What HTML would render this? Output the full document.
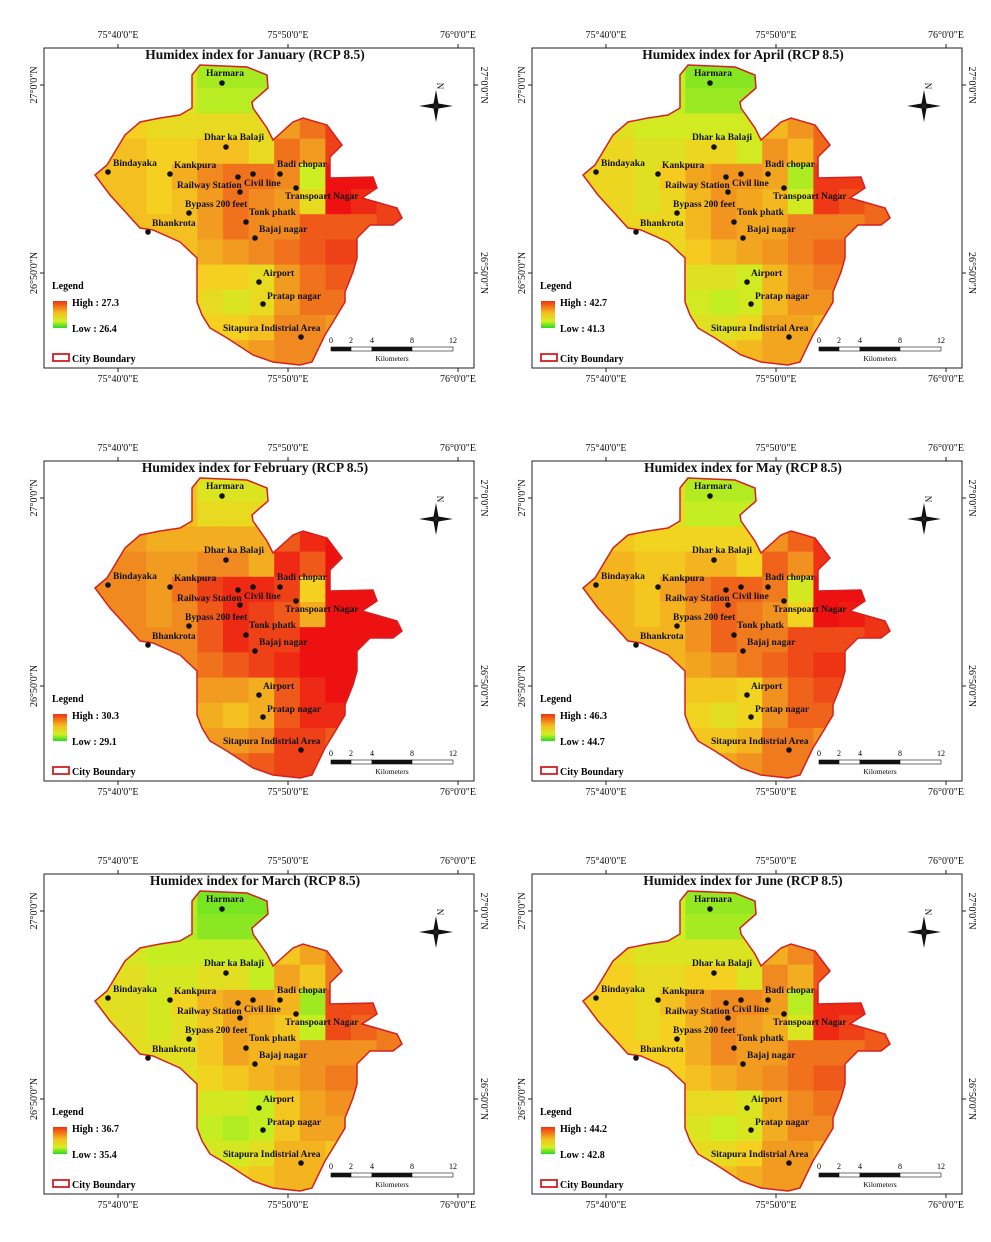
<!DOCTYPE html>
<html><head><meta charset="utf-8"><style>
html,body{margin:0;padding:0;background:#fff;}
svg{display:block;font-family:"Liberation Serif",serif;}
.lbl{font-size:9.5px;font-weight:bold;fill:#111;}
.coord{font-size:10px;fill:#111;}
.ttl{font-size:13.5px;font-weight:bold;fill:#111;}
</style></head><body>
<svg id="fig" width="991" height="1242" viewBox="0 0 991 1242" xmlns="http://www.w3.org/2000/svg">
<defs>
<clipPath id="cityClip" clipPathUnits="userSpaceOnUse">
<polygon id="cityPoly" points="192,75 200,65 247,67 267,75 268,88 252,102 253,108 267,128 273,140 293,122 303,118 327,125 342,145 330,157 330,178 373,177 377,188 362,198 397,208 402,218 393,225 370,225 357,238 357,258 353,272 345,292 345,302 333,322 325,335 312,362 300,365 273,362 253,355 227,338 210,328 202,315 197,302 197,258 180,242 153,230 140,228 110,195 95,175 107,165 125,135 140,122 160,118 180,115 192,108"/>
</clipPath>
<linearGradient id="legGrad" x1="0" y1="0" x2="0" y2="1">
<stop offset="0" stop-color="#ee3311"/><stop offset="0.45" stop-color="#f5c020"/><stop offset="0.75" stop-color="#d4ee22"/><stop offset="1" stop-color="#22dd22"/>
</linearGradient>
</defs>
</svg>
<script>
const months = ["January","April","February","May","March","June"];
const highVals = ["27.3","42.7","30.3","46.3","36.7","44.2"];
const lowVals = ["26.4","41.3","29.1","44.7","35.4","42.8"];
const heatOffset = [0, -0.08, 0.15, 0.03, -0.12, -0.05];
const baseHeat = [
 [0.5,0.5,0.5,0.45,0.3,0.3,0.3,0.6,0.7,0.8,0.8,0.8],
 [0.5,0.5,0.5,0.45,0.35,0.35,0.35,0.6,0.7,0.8,0.8,0.8],
 [0.55,0.55,0.5,0.5,0.5,0.5,0.5,0.7,0.8,0.9,0.9,0.9],
 [0.6,0.6,0.55,0.55,0.6,0.6,0.5,0.8,0.7,0.9,0.95,0.95],
 [0.6,0.6,0.55,0.65,0.75,0.8,0.8,0.75,0.4,1,1,1],
 [0.6,0.6,0.55,0.6,0.7,0.8,0.75,0.7,0.5,1,0.95,0.9],
 [0.6,0.6,0.6,0.6,0.7,0.8,0.75,0.75,0.85,0.85,0.85,0.9],
 [0.6,0.6,0.6,0.6,0.65,0.7,0.75,0.8,0.85,0.9,0.9,0.9],
 [0.55,0.55,0.55,0.55,0.55,0.55,0.5,0.7,0.8,0.85,0.85,0.85],
 [0.5,0.5,0.5,0.5,0.5,0.45,0.5,0.7,0.8,0.8,0.8,0.8],
 [0.55,0.55,0.55,0.55,0.55,0.55,0.6,0.75,0.75,0.7,0.7,0.7],
 [0.65,0.65,0.65,0.65,0.65,0.65,0.7,0.75,0.75,0.75,0.75,0.75]
];
const places = [
 ["Harmara",222,83,206,76],["Dhar ka Balaji",226,147,204,140],["Bindayaka",108,172,113,166],
 ["Kankpura",170,174,174,168],["Railway Station",238,177,177,188],["Civil line",253,174,244,186],
 ["Badi chopar",280,174,277,167],["Transpoart Nagar",296,188,285,199],["Bypass 200 feet",189,213,185,207],
 ["Tonk phatk",246,222,249,215],["Bhankrota",148,232,152,226],["Bajaj nagar",255,238,259,232],
 ["Airport",259,282,263,276],["Pratap nagar",263,304,267,299],["Sitapura Indistrial Area",301,337,223,331]
];
const extraDots = [[240,192]];
const NS="http://www.w3.org/2000/svg";
const fig=document.getElementById('fig');
const gx0=95,gy0=63,cw=25.6,ch=25.2;
function xCell(c){return gx0+c*cw;}
function yCell(r){return gy0+r*ch;}
function lerp(a,b,t){return a+(b-a)*t;}
const stops=[[0,[51,221,34]],[0.4,[204,238,34]],[0.55,[245,208,32]],[0.75,[240,138,32]],[1,[238,17,17]]];
function colorOf(v){v=Math.max(0,Math.min(1,v));for(let i=1;i<stops.length;i++){if(v<=stops[i][0]){const a=stops[i-1],b=stops[i];const t=(v-a[0])/(b[0]-a[0]);return `rgb(${Math.round(lerp(a[1][0],b[1][0],t))},${Math.round(lerp(a[1][1],b[1][1],t))},${Math.round(lerp(a[1][2],b[1][2],t))})`;}}return 'rgb(238,17,17)';}
function mk(tag,attrs,parent,txt){const e=document.createElementNS(NS,tag);for(const k in attrs)e.setAttribute(k,attrs[k]);if(txt!==undefined)e.textContent=txt;parent.appendChild(e);return e;}
const polyPts=document.getElementById('cityPoly').getAttribute('points');
months.forEach((m,i)=>{
 const dx=(i%2)*488, dy=Math.floor(i/2)*413;
 const g=mk('g',{transform:`translate(${dx},${dy})`},fig);
 
 
 const fr=mk('rect',{x:44,y:48,width:430,height:320,fill:'#fff',stroke:'#222','stroke-width':1},g);
 
 
 [[118,"75°40'0\"E"],[288,"75°50'0\"E"],[458,"76°0'0\"E"]].forEach(([x,t])=>{
  mk('line',{x1:x,y1:44,x2:x,y2:48,stroke:'#222'},g);mk('line',{x1:x,y1:368,x2:x,y2:372,stroke:'#222'},g);
  const a=mk('text',{x:x,y:38,'text-anchor':'middle',class:'coord'},g,t);
  
  
  const b=mk('text',{x:x,y:382,'text-anchor':'middle',class:'coord'},g,t);
  
  
 });
 [[85,"27°0'0\"N"],[273,"26°50'0\"N"]].forEach(([y,t])=>{
  mk('line',{x1:40,y1:y,x2:44,y2:y,stroke:'#222'},g);mk('line',{x1:474,y1:y,x2:478,y2:y,stroke:'#222'},g);
  const a=mk('text',{x:0,y:0,'text-anchor':'middle',class:'coord',transform:`translate(37,${y}) rotate(-90)`},g,t);
  
  
  const b=mk('text',{x:0,y:0,'text-anchor':'middle',class:'coord',transform:`translate(481,${y}) rotate(90)`},g,t);
  
  
 });
 const tt=mk('text',{x:255,y:59,'text-anchor':'middle',class:'ttl'},g,`Humidex index for ${m} (RCP 8.5)`);
 
 
 const hg=mk('g',{'clip-path':'url(#cityClip)'},g);
 baseHeat.forEach((row,r)=>row.forEach((v,c)=>{
  const cell=mk('rect',{x:xCell(c),y:yCell(r),width:cw+0.5,height:ch+0.5,fill:colorOf(v+heatOffset[i])},hg);
  
  
 }));
 const bd=mk('polygon',{points:polyPts,fill:'none',stroke:'#d42020','stroke-width':1.5},g);
 
 
 places.forEach(p=>{
  const d=mk('circle',{cx:p[1],cy:p[2],r:2.8,fill:'#111'},g);
  
  
  const t=mk('text',{x:p[3],y:p[4],class:'lbl'},g,p[0]);
  
  
 });
 extraDots.forEach(p=>{const d=mk('circle',{cx:p[0],cy:p[1],r:2.8,fill:'#111'},g);
  
  });
 const na=mk('g',{transform:'translate(436,106)'},g);
 
 
 mk('polygon',{points:'0,-16 2.5,-2.5 0,0 -2.5,-2.5',fill:'#111'},na);
 mk('polygon',{points:'0,16 2.5,2.5 0,0 -2.5,2.5',fill:'#111'},na);
 mk('polygon',{points:'-17,0 -2.5,-2.5 0,0 -2.5,2.5',fill:'#111'},na);
 mk('polygon',{points:'17,0 2.5,-2.5 0,0 2.5,2.5',fill:'#111'},na);
 mk('text',{x:0,y:0,'font-size':'9px',transform:'translate(1,-20) rotate(90)','text-anchor':'middle'},na,'N');
 const lg=mk('g',{},g);
 
 
 mk('text',{x:52,y:289,'font-size':'10px','font-weight':'bold'},lg,'Legend');
 mk('rect',{x:53,y:301,width:14,height:27,fill:'url(#legGrad)'},lg);
 mk('text',{x:72,y:306,'font-size':'10px','font-weight':'bold'},lg,'High : '+highVals[i]);
 mk('text',{x:72,y:332,'font-size':'10px','font-weight':'bold'},lg,'Low : '+lowVals[i]);
 mk('rect',{x:53,y:354,width:16,height:7,fill:'#fff',stroke:'#d42020','stroke-width':1.8},lg);
 mk('text',{x:72,y:362,'font-size':'10px','font-weight':'bold'},lg,'City Boundary');
 const sb=mk('g',{},g);
 
 
 const sx=[331,351,372,412,453],lab=["0","2","4","8","12"];
 for(let k=0;k<4;k++){mk('rect',{x:sx[k],y:347,width:sx[k+1]-sx[k],height:4,fill:k%2==0?'#111':'#fff',stroke:'#111','stroke-width':0.6},sb);}
 lab.forEach((t,k)=>mk('text',{x:sx[k],y:343,'font-size':'8px','text-anchor':'middle'},sb,t));
 mk('text',{x:392,y:361,'font-size':'7.5px','text-anchor':'middle'},sb,'Kilometers');
});
</script>
</body></html>
